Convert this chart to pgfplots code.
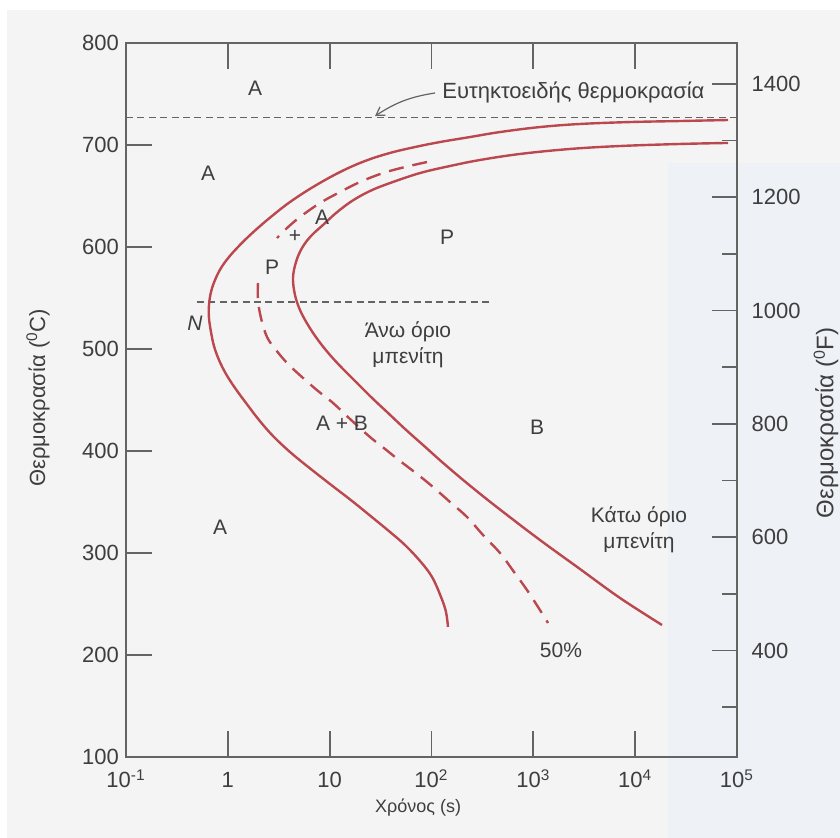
\documentclass[border=0pt]{standalone}
\usepackage{fontspec}
\setmainfont{Liberation Sans}
\usepackage{pgfplots}
\pgfplotsset{compat=1.18}
\usetikzlibrary{arrows.meta}

\definecolor{ttred}{RGB}{186,72,78}
\definecolor{axgray}{RGB}{100,100,100}
\definecolor{txtgray}{RGB}{62,62,62}
\definecolor{paper}{RGB}{244,244,244}
\definecolor{paperblue}{RGB}{238,241,245}

\tikzset{lbl/.style={font=\fontsize{10.5}{13}\selectfont, text=txtgray, align=center}}

\begin{document}
\begin{tikzpicture}[x=1pt,y=1pt]
% page area and paper tint
\useasboundingbox (-63,-40.5) rectangle (357,378.5);
\fill[white] (-63,-40.5) rectangle (357,378.5);
\fill[paper] (-59.5,-40.5) rectangle (357,373.5);
\fill[paperblue] (271,-40.5) rectangle (357,297);

% Celsius axis with the transformation curves
\begin{axis}[
  at={(0,0)}, anchor=south west,
  scale only axis, width=305.5pt, height=357pt,
  xmode=log, xmin=0.1, xmax=1e5, ymin=100, ymax=800,
  xtick={0.1,1,10,100,1000,10000,100000},
  xticklabels={10\textsuperscript{-1},1,10,10\textsuperscript{2},10\textsuperscript{3},10\textsuperscript{4},10\textsuperscript{5}},
  xminorticks=false,
  ytick={100,200,...,800},
  ytick pos=left, xtick pos=both,
  tick align=inside, major tick length=13pt,
  axis line style={axgray, line width=1pt},
  tick style={axgray, line width=0.9pt},
  /pgf/number format/assume math mode=true,
  ticklabel style={font=\fontsize{11}{13}\selectfont, text=txtgray},
  xticklabel style={anchor=base, yshift=-15.5pt},
  every axis y label/.style={at={(axis description cs:-0.144,0.503)}, anchor=center, rotate=90,
    font=\fontsize{11}{13}\selectfont, text=txtgray},
  ylabel={Θερμοκρασία ({\textsuperscript{0}}C)},
  every axis x label/.style={at={(axis description cs:0.478,-0.0714)}, anchor=center,
    font=\fontsize{9}{11}\selectfont, text=txtgray},
  xlabel={Χρόνος (s)},
  clip=false,
]
% eutectoid temperature
\addplot[axgray, line width=0.7pt, dash pattern=on 3.5pt off 2.2pt] coordinates {(0.1,727) (100000,727)};
% upper bainite limit
\addplot[axgray, line width=0.7pt, dash pattern=on 3.5pt off 2.2pt] coordinates {(0.498,546) (392.8,546)};

% start of transformation
\addplot[ttred, line width=1.2pt, smooth, tension=0.6] coordinates {
 (81601,724.5) (27574,723.5) (8900,722.5) (2872,720.6) (1163,717.6) (470.8,712.7)
 (238.9,707.8) (121.2,702.9) (68.88,698.0) (39.14,692.2) (22.24,684.3) (12.64,673.5)
 (6.862,658.8) (4.079,644.1) (2.716,630.4) (2.0234,619.6) (1.5781,609.8) (1.2586,600.0)
 (1.0268,590.2) (0.8568,579.4) (0.7481,567.6) (0.6835,555.9) (0.6532,543.1) (0.6532,530.4)
 (0.6835,516.7) (0.7314,502.9) (0.8191,489.2) (0.9595,475.5) (1.1760,461.8) (1.5083,447.1)
 (2.0234,430.4) (2.778,414.7) (4.079,399.0) (5.990,385.3) (10.08,367.6) (16.57,351.0)
 (26.65,334.3) (39.14,320.6) (54.94,307.8) (77.13,292.2) (101.2,276.5) (124.0,256.9)
 (138.8,242.2) (145.2,227.5)};

% end of transformation
\addplot[ttred, line width=1.2pt, smooth, tension=0.6] coordinates {
 (81601,702.0) (27574,701.0) (7099,699.0) (2292,696.1) (740.0,691.2) (299.5,685.3)
 (151.96,679.4) (77.13,672.5) (39.14,662.7) (24.90,654.9) (16.57,645.1) (11.54,633.3)
 (8.604,621.6) (6.558,610.8) (5.350,599.0) (4.671,585.3) (4.365,569.6) (4.567,552.9)
 (5.114,538.2) (6.129,523.5) (7.684,508.8) (10.08,494.1) (13.52,480.4) (18.56,466.7)
 (26.06,452.0) (37.41,437.3) (54.94,421.6) (82.53,405.9) (126.9,389.2) (199.4,372.5)
 (327.9,354.9) (551.5,337.3) (1163,312.7) (2872,284.3) (7099,255.9) (18352,229.4)};

% 50 % transformed
\addplot[ttred, line width=1.2pt, smooth, tension=0.6, dash pattern=on 7.5pt off 4.5pt] coordinates {
 (90.32,683.3) (54.94,678.4) (33.41,672.5) (19.86,663.7) (12.64,653.9) (8.039,643.1)
 (5.114,629.4) (3.812,618.6) (3.040,608.8)};
\addplot[ttred, line width=1.2pt, smooth, tension=0.6, dash pattern=on 7.5pt off 4.5pt] coordinates {
 (1.978,564.7) (1.978,548.0) (2.117,530.4) (2.424,511.8) (2.972,499.0) (3.899,485.3)
 (5.473,471.6) (7.684,458.8) (10.79,447.1) (15.84,431.4) (24.90,413.7) (34.95,402.0)
 (49.07,390.2) (72.07,377.5) (103.5,364.7) (151.96,350.0) (223.3,335.3) (320.6,317.6)
 (470.8,300.0) (646.2,281.4) (867.0,263.7) (1111.7,247.1) (1394,231.4)};

% region labels
\node[lbl] at (axis cs:1.849,755.9) {A};
\node[lbl, font=\fontsize{11}{13}\selectfont, anchor=west, inner sep=0pt] at (axis cs:126.9,751) {Ευτηκτοειδής θερμοκρασία};
\draw[axgray, line width=0.6pt, -{Straight Barb[length=4pt,width=5pt]}]
  (axis cs:108.3,751) to[bend right=12] (axis cs:27.9,728.4);
\node[lbl] at (axis cs:0.639,672.5) {A};
\node[lbl] at (axis cs:8.41,629.4) {A};
\node[lbl] at (axis cs:4.567,610.8) {+};
\node[lbl] at (axis cs:2.716,580.4) {P};
\node[lbl] at (axis cs:142.0,609.8) {P};
\node[lbl] at (axis cs:0.476,525.5) {\itshape N};
\node[lbl] at (axis cs:58.8,503.9) {Άνω όριο\\μπενίτη};
\node[lbl] at (axis cs:13.22,427.5) {A + B};
\node[lbl] at (axis cs:1087,423.5) {B};
\node[lbl] at (axis cs:10910,322.5) {Κάτω όριο\\μπενίτη};
\node[lbl] at (axis cs:1870,204.9) {50\%};
\node[lbl] at (axis cs:0.838,325.5) {A};
\end{axis}

% Fahrenheit scale on the right
\begin{axis}[
  at={(0,0)}, anchor=south west,
  scale only axis, width=305.5pt, height=357pt,
  xmode=log, xmin=0.1, xmax=1e5, ymin=212, ymax=1472,
  hide x axis, axis y line*=right,
  ytick={400,600,...,1400}, minor ytick={300,500,...,1300},
  tick align=inside, major tick length=12.5pt, minor tick length=7.5pt,
  axis line style={axgray, line width=1pt},
  tick style={axgray, line width=0.9pt},
  /pgf/number format/assume math mode=true,
  /pgf/number format/1000 sep={},
  ticklabel style={font=\fontsize{11}{13}\selectfont, text=txtgray},
  yticklabel style={anchor=west, xshift=3.8pt},
  clip=false,
]
\node[font=\fontsize{12}{14}\selectfont, text=txtgray, rotate=90, anchor=center]
  at (rel axis cs:1.1457,0.468) {Θερμοκρασία ({\textsuperscript{0}}F)};
\end{axis}
\end{tikzpicture}
\end{document}
